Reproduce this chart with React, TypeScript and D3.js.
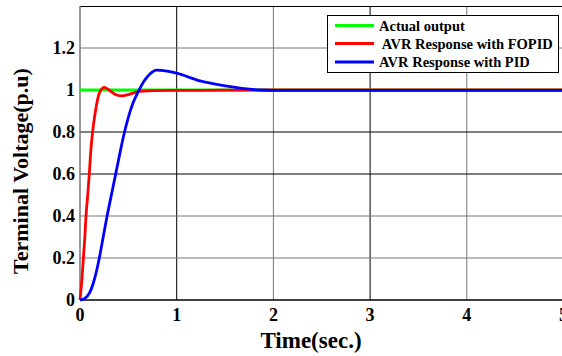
import React, { useEffect, useRef } from 'react';
import * as d3 from 'd3';

// series (time in sec, voltage in p.u)
const actualT = [0, 5];
const actualV = [1, 1];

const fopidT = [0, 0.02, 0.035, 0.05, 0.062, 0.08, 0.096, 0.11, 0.13, 0.16, 0.2, 0.25, 0.3, 0.36, 0.43, 0.5, 0.58, 0.65, 0.8, 1.0, 1.5, 2, 5];
const fopidV = [0, 0.1, 0.2, 0.3, 0.4, 0.5, 0.6, 0.7, 0.8, 0.9, 0.985, 1.012, 1.0, 0.98, 0.972, 0.978, 0.99, 0.995, 0.997, 0.998, 0.999, 1, 1];

const pidT = [0, 0.05, 0.1, 0.15, 0.2, 0.24, 0.28, 0.32, 0.36, 0.4, 0.45, 0.5, 0.55, 0.6, 0.66, 0.72, 0.79, 0.9, 1.0, 1.24, 1.5, 1.86, 2.0, 3, 5];
const pidV = [0, 0.008, 0.035, 0.1, 0.2, 0.3, 0.4, 0.49, 0.58, 0.67, 0.78, 0.87, 0.94, 0.99, 1.04, 1.075, 1.095, 1.09, 1.08, 1.043, 1.02, 1.0, 0.998, 0.998, 0.998];

const xTicks = [0, 1, 2, 3, 4, 5];
const yTicks = [0, 0.2, 0.4, 0.6, 0.8, 1, 1.2];
const yTickLabels = ['0', '0.2', '0.4', '0.6', '0.8', '1', '1.2'];
const legendNames = ['Actual output', ' AVR Response with FOPID', 'AVR Response with PID'];
const colors = ['#00ff00', '#ff0000', '#0000ff'];

const width = 562;
const height = 356;

const App = () => {
    const svgRef = useRef<SVGSVGElement>(null);

    useEffect(() => {
        const svg = d3.select(svgRef.current);
        svg.selectAll('*').remove();

        const x = d3.scaleLinear().domain([0, 5]).range([80, 563.5]);
        const y = d3.scaleLinear().domain([0, 1.4]).range([300, 6]);
        const font = '"Liberation Serif", "Times New Roman", serif';

        svg.append('rect').attr('width', width).attr('height', height).attr('fill', '#fff');

        // grid (some lines darker, like the scanned original)
        const xGridColor: Record<number, string> = { 1: '#000', 2: '#777', 3: '#000', 4: '#777' };
        xTicks.filter(t => t > 0).forEach(t => {
            svg.append('line')
                .attr('x1', x(t)).attr('x2', x(t))
                .attr('y1', y(1.4)).attr('y2', y(0))
                .attr('stroke', xGridColor[t] || '#000').attr('stroke-width', 1);
        });
        const yGridColor: Record<string, string> = { '0.2': '#777', '0.4': '#777', '0.6': '#000', '0.8': '#000', '1': '#000', '1.2': '#777' };
        yTicks.filter(t => t > 0).forEach(t => {
            svg.append('line')
                .attr('x1', x(0)).attr('x2', width)
                .attr('y1', y(t)).attr('y2', y(t))
                .attr('stroke', yGridColor[String(t)] || '#000').attr('stroke-width', 1);
        });

        // frame
        svg.append('line').attr('x1', x(0)).attr('x2', width).attr('y1', y(1.4) + 0.5).attr('y2', y(1.4) + 0.5).attr('stroke', '#000');
        svg.append('line').attr('x1', x(0)).attr('x2', x(0)).attr('y1', y(1.4)).attr('y2', y(0)).attr('stroke', '#777').attr('stroke-width', 1.5);
        svg.append('line').attr('x1', x(0)).attr('x2', width).attr('y1', y(0)).attr('y2', y(0)).attr('stroke', '#000').attr('stroke-width', 1.5);

        // tick labels
        svg.selectAll('.xt').data(xTicks).enter().append('text')
            .attr('x', d => x(d)).attr('y', 321)
            .attr('text-anchor', 'middle')
            .style('font-family', font).style('font-weight', 'bold').style('font-size', '18px')
            .text(d => String(d));
        svg.selectAll('.yt').data(yTicks).enter().append('text')
            .attr('x', 75).attr('y', d => y(d) + 6)
            .attr('text-anchor', 'end')
            .style('font-family', font).style('font-weight', 'bold').style('font-size', '18px')
            .text((d, i) => yTickLabels[i]);

        // axis titles
        svg.append('text')
            .attr('x', 311).attr('y', 348)
            .attr('text-anchor', 'middle')
            .style('font-family', font).style('font-weight', 'bold').style('font-size', '23px')
            .text('Time(sec.)');
        svg.append('text')
            .attr('transform', `translate(28, ${171}) rotate(-90)`)
            .attr('text-anchor', 'middle')
            .style('font-family', font).style('font-weight', 'bold').style('font-size', '22px')
            .text('Terminal Voltage(p.u)');

        // curves
        const line = d3.line<[number, number]>()
            .curve(d3.curveMonotoneX)
            .x(d => x(d[0]))
            .y(d => y(d[1]));
        const series: [number[], number[]][] = [[actualT, actualV], [fopidT, fopidV], [pidT, pidV]];
        series.forEach(([ts, vs], i) => {
            svg.append('path')
                .datum(ts.map((t, j) => [t, vs[j]] as [number, number]))
                .attr('fill', 'none')
                .attr('stroke', colors[i])
                .attr('stroke-width', 2.8)
                .attr('d', line);
        });

        // legend
        const lg = svg.append('g');
        lg.append('rect')
            .attr('x', 327.5).attr('y', 15.5).attr('width', 231).attr('height', 57)
            .attr('fill', '#fff').attr('stroke', '#000').attr('stroke-width', 1);
        const rows = [25.5, 43.5, 62];
        legendNames.forEach((name, i) => {
            lg.append('line')
                .attr('x1', 335).attr('x2', 374)
                .attr('y1', rows[i]).attr('y2', rows[i])
                .attr('stroke', colors[i]).attr('stroke-width', 3);
            lg.append('text')
                .attr('x', 379).attr('y', rows[i] + 5)
                .attr('xml:space', 'preserve')
                .style('white-space', 'pre')
                .style('font-family', font).style('font-weight', 'bold').style('font-size', '14.5px')
                .text(name);
        });
    }, []);

    return (
        <svg ref={svgRef} width={width} height={height}
            style={{ position: 'absolute', left: 0, top: 0, display: 'block' }} />
    );
};

export default App;
